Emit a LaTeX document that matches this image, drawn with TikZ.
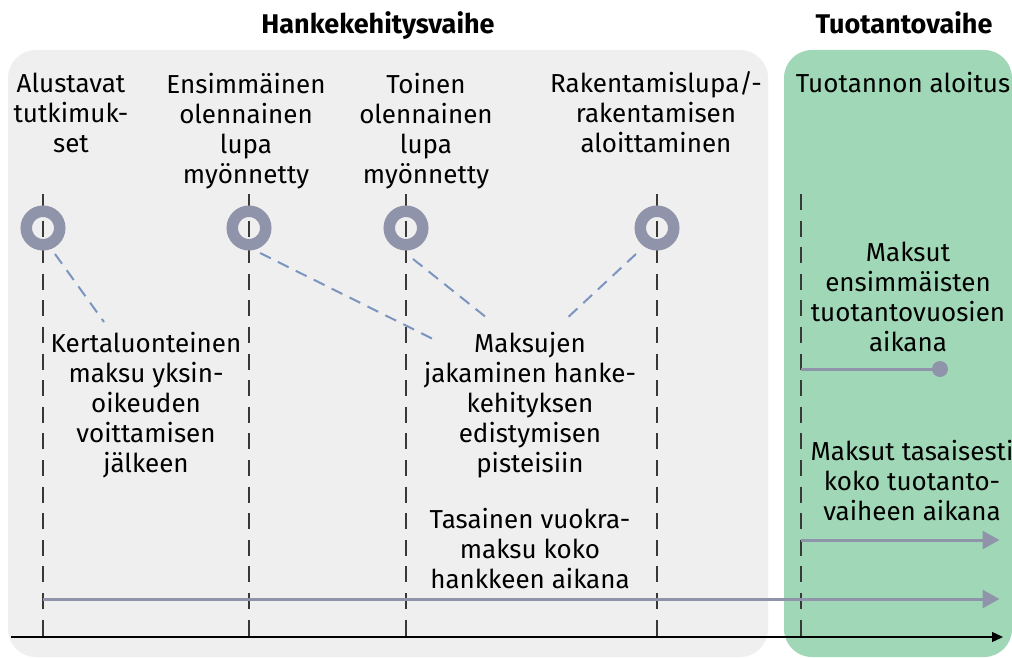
\documentclass[tikz,border=0pt]{standalone}
\usepackage{fontspec}
\setmainfont{Fira Sans}
\usetikzlibrary{arrows.meta}
\definecolor{bggray}{HTML}{EFEFEF}
\definecolor{bggreen}{HTML}{A0D8B7}
\definecolor{ringc}{HTML}{9094AB}
\definecolor{bluedash}{HTML}{7B95C0}
\definecolor{darkline}{HTML}{383838}
\begin{document}
\begin{tikzpicture}[x=1pt,y=-1pt,
  lbl/.style={align=center, font=\fontsize{26}{30}\selectfont, anchor=base, inner sep=0pt},
  ttl/.style={font=\fontsize{27}{30}\selectfont\bfseries, anchor=base, inner sep=0pt},
  vdash/.style={draw=darkline, line width=2pt, dash pattern=on 16pt off 10.6pt},
  ring/.style={circle, draw=ringc, line width=11.5pt, minimum size=33.5pt, inner sep=0pt},
  bdash/.style={draw=bluedash, line width=2pt, dash pattern=on 12pt off 8pt},
  garrow/.style={draw=ringc, line width=3pt, -{Triangle[length=17pt,width=18pt]}},
  panel/.style={rounded corners=28pt}
]
\useasboundingbox (0,0) rectangle (1012,658);
\fill[white] (0,0) rectangle (1012,658);
% panels
\fill[bggray, panel] (8,50) rectangle (768,657);
\fill[bggreen, panel] (784,50) rectangle (1012,657);
% titles
\node[ttl] (tt1) at (378,34) {Hankekehitysvaihe};
\node[ttl] (tt2) at (904,34) {Tuotantovaihe};
% vertical dashed lines
\foreach \i/\x in {1/43,2/249,3/406,4/657,5/801}{
  \coordinate (t\i) at (\x,194);
  \coordinate (b\i) at (\x,637);
  \draw[vdash] (t\i) -- (b\i);
}
% rings
\node[ring] (r1) at (43,228) {};
\node[ring] (r2) at (249,228) {};
\node[ring] (r3) at (406,228) {};
\node[ring] (r4) at (657,228) {};
% labels (anchor = baseline of the last line)
\node[lbl] (h1) at (71,153) {Alustavat\\tutkimuk-\\set};
\node[lbl] (h2) at (246,183) {Ensimmäinen\\olennainen\\lupa\\myönnetty};
\node[lbl] (h3) at (426,183) {Toinen\\olennainen\\lupa\\myönnetty};
\node[lbl] (h4) at (656,153) {Rakentamislupa/-\\rakentamisen\\aloittaminen};
\node[lbl] (h5) at (903,93) {Tuotannon aloitus};
\node[lbl] (k) at (146,472) {Kertaluonteinen\\maksu yksin-\\oikeuden\\voittamisen\\jälkeen};
\node[lbl] (m) at (530,472) {Maksujen\\jakaminen hanke-\\kehityksen\\edistymisen\\pisteisiin};
\node[lbl] (t) at (530,588) {Tasainen vuokra-\\maksu koko\\hankkeen aikana};
\node[lbl] (p) at (908,351) {Maksut\\ensimmäisten\\tuotantovuosien\\aikana};
\node[lbl] (q) at (912,520) {Maksut tasaisesti\\koko tuotanto-\\vaiheen aikana};
% blue dashed connectors
\coordinate (s1) at (55,254);  \coordinate (e1) at (104,322);
\coordinate (s2) at (260,253); \coordinate (e2) at (435,340);
\coordinate (s3) at (413,259); \coordinate (e3) at (487,318);
\coordinate (s4) at (636,254); \coordinate (e4) at (564,321);
\draw[bdash] (s1) -- (e1);
\draw[bdash] (s2) -- (e2);
\draw[bdash] (s3) -- (e3);
\draw[bdash] (s4) -- (e4);
% production payments line with dot
\coordinate (d0) at (801,369);
\node[circle, fill=ringc, minimum size=16pt, inner sep=0pt] (dot) at (940,369) {};
\draw[draw=ringc, line width=3pt] (d0) -- (dot.center);
% arrows
\coordinate (a1s) at (801,540); \coordinate (a1e) at (999.5,540);
\coordinate (a2s) at (43,599);  \coordinate (a2e) at (999.5,599);
\draw[garrow] (a1s) -- (a1e);
\draw[garrow] (a2s) -- (a2e);
% axis
\coordinate (ax0) at (11,637); \coordinate (ax1) at (1003,637);
\draw[black, line width=1.3pt, -{Triangle[length=11pt,width=10pt]}] (ax0) -- (ax1);
\end{tikzpicture}
\end{document}
